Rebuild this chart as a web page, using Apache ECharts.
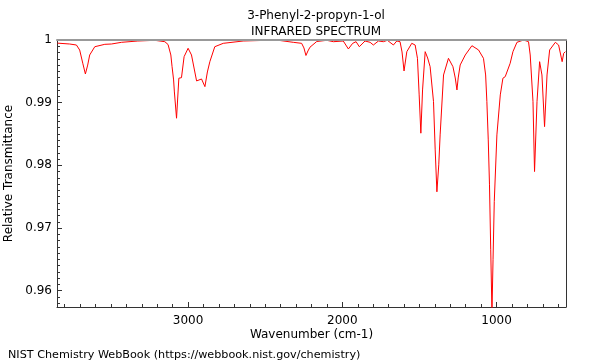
<!DOCTYPE html>
<html>
<head>
<meta charset="utf-8">
<script src="https://cdn.jsdelivr.net/npm/echarts@6/dist/echarts.min.js"></script>
<style>
html,body{margin:0;padding:0;background:#fff;}
#chart{width:600px;height:360px;}
</style>
</head>
<body>
<div id="chart"></div>
<script>
var titleLines = ["3-Phenyl-2-propyn-1-ol", "INFRARED SPECTRUM"];
var xAxisName = "Wavenumber (cm-1)";
var yAxisName = "Relative Transmittance";
var footerText = "NIST Chemistry WebBook (https://webbook.nist.gov/chemistry)";

var wavenumbers = [3847,3768,3724,3703,3683,3666,3651,3638,3605,3540,3497,3432,3326,3216,3151,3130,3112,3104,3094,3089,3075,3060,3043,3026,3000,2978,2945,2913,2901,2891,2875,2859,2827,2772,2643,2491,2404,2318,2264,2249,2236,2223,2210,2166,2101,2058,1994,1961,1933,1911,1890,1853,1820,1799,1766,1734,1708,1669,1647,1626,1613,1600,1582,1550,1528,1513,1502,1491,1480,1463,1447,1431,1409,1398,1387,1375,1366,1344,1312,1283,1268,1257,1249,1236,1203,1160,1117,1085,1071,1063,1054,1046,1038,1030,1023,1015,998,976,959,944,912,894,868,825,793,782,764,754,738,721,706,689,673,656,619,598,575,565,554];
var transmittance = [0.9995,0.99936,0.9992,0.9984,0.9963,0.99458,0.9960,0.99761,0.99893,0.99931,0.99936,0.99963,0.99984,0.99995,0.99973,0.99928,0.99761,0.99574,0.99363,0.99171,0.98752,0.99390,0.99399,0.99734,0.99868,0.99761,0.99347,0.99378,0.99363,0.99256,0.9949,0.99654,0.99893,0.99947,0.99984,0.99995,0.99992,0.99963,0.99947,0.99873,0.99753,0.99825,0.99885,0.99976,0.99995,0.99973,0.99984,0.99857,0.99947,0.99973,0.99893,0.99984,0.99963,0.9992,0.99984,0.99973,0.99995,0.9992,0.99984,0.99973,0.99809,0.99506,0.99814,0.99947,0.9992,0.99708,0.99124,0.98513,0.99203,0.99814,0.99713,0.99574,0.99017,0.98247,0.97578,0.98008,0.98486,0.99442,0.99708,0.99574,0.99394,0.99203,0.99394,0.99602,0.99761,0.99909,0.99841,0.99708,0.99442,0.99017,0.98406,0.97689,0.96653,0.9565,0.96494,0.97423,0.98486,0.99124,0.9939,0.99415,0.99629,0.99814,0.99963,1.0,0.99973,0.99761,0.99017,0.97901,0.99017,0.99654,0.99442,0.98618,0.99442,0.99841,0.99963,0.9992,0.99654,0.99788,0.99814];

var xMajorTicks = [1000, 2000, 3000];
var xMinorTicks = [600,700,800,900,1100,1200,1300,1400,1500,1600,1700,1800,1900,2100,2200,2300,2400,2500,2600,2700,2800,2900,3100,3200,3300,3400,3500,3600,3700,3800];
var yMajorTicks = [0.96, 0.97, 0.98, 0.99, 1];
var yMinorTicks = [0.958,0.959,0.961,0.962,0.963,0.964,0.965,0.966,0.967,0.968,0.969,0.971,0.972,0.973,0.974,0.975,0.976,0.977,0.978,0.979,0.981,0.982,0.983,0.984,0.985,0.986,0.987,0.988,0.989,0.991,0.992,0.993,0.994,0.995,0.996,0.997,0.998,0.999];

var X_MIN = 550, X_MAX = 3850, Y_MIN = 0.9574, Y_MAX = 1;
var FONT = "DejaVu Sans";

var seriesData = wavenumbers.map(function (w, i) { return [w, transmittance[i]]; });

function xAx(extra) {
  var base = { type: 'value', inverse: true, min: X_MIN, max: X_MAX, position: 'bottom',
    splitLine: { show: false }, axisLine: { show: false }, axisTick: { show: false }, axisLabel: { show: false } };
  for (var k in extra) base[k] = extra[k];
  return base;
}
function yAx(extra) {
  var base = { type: 'value', min: Y_MIN, max: Y_MAX, position: 'left',
    splitLine: { show: false }, axisLine: { show: false }, axisTick: { show: false }, axisLabel: { show: false } };
  for (var k in extra) base[k] = extra[k];
  return base;
}

var chart = echarts.init(document.getElementById('chart'), null, { renderer: 'canvas' });
chart.setOption({
  animation: false,
  backgroundColor: '#ffffff',
  textStyle: { fontFamily: FONT },
  title: [
    { text: titleLines[0], left: 311, top: 5, textAlign: 'center',
      textStyle: { fontFamily: FONT, fontSize: 12, fontWeight: 'normal', color: '#000' } },
    { text: titleLines[1], left: 311, top: 21, textAlign: 'center',
      textStyle: { fontFamily: FONT, fontSize: 12, fontWeight: 'normal', color: '#000' } },
    { text: footerText, left: 3, top: 345,
      textStyle: { fontFamily: FONT, fontSize: 11.2, fontWeight: 'normal', color: '#000' } }
  ],
  grid: { left: 57, right: 34, top: 40, bottom: 53, containLabel: false, outerBoundsMode: 'none' },
  xAxis: [
    xAx({
      name: xAxisName, nameLocation: 'middle', nameGap: 22, nameMoveOverlap: false,
      nameTextStyle: { fontFamily: FONT, fontSize: 12, color: '#000' },
      axisLine: { show: true, lineStyle: { color: '#333', width: 1 } },
      axisTick: { show: true, inside: true, length: 5, customValues: xMajorTicks, lineStyle: { color: '#333' } },
      axisLabel: { show: true, customValues: xMajorTicks, margin: 8, fontFamily: FONT, fontSize: 12, color: '#000',
        formatter: function (v) { return String(Math.round(v)); } }
    }),
    xAx({
      axisTick: { show: true, inside: true, length: 3, customValues: xMinorTicks, lineStyle: { color: '#333' } }
    }),
    xAx({
      position: 'top', z: 10,
      axisLine: { show: true, lineStyle: { color: '#999', width: 2 } }
    })
  ],
  yAxis: [
    yAx({
      name: yAxisName, nameLocation: 'middle', nameGap: 40, nameRotate: 90,
      nameTextStyle: { fontFamily: FONT, fontSize: 12, color: '#000' },
      axisLine: { show: true, lineStyle: { color: '#333', width: 1 } },
      axisTick: { show: true, inside: true, length: 5, customValues: yMajorTicks, lineStyle: { color: '#333' } },
      axisLabel: { show: true, customValues: yMajorTicks, margin: 5, fontFamily: FONT, fontSize: 12, color: '#000',
        formatter: function (v) { return Math.abs(v - 1) < 1e-9 ? '1' : v.toFixed(2); } }
    }),
    yAx({
      axisTick: { show: true, inside: true, length: 3, customValues: yMinorTicks, lineStyle: { color: '#333' } }
    }),
    yAx({
      position: 'right',
      axisLine: { show: true, lineStyle: { color: '#333', width: 1 } }
    })
  ],
  series: [{
    type: 'line',
    xAxisIndex: 0, yAxisIndex: 0,
    data: seriesData,
    showSymbol: false,
    clip: true,
    lineStyle: { color: '#ff0000', width: 1 },
    z: 2
  }]
});
</script>
</body>
</html>
